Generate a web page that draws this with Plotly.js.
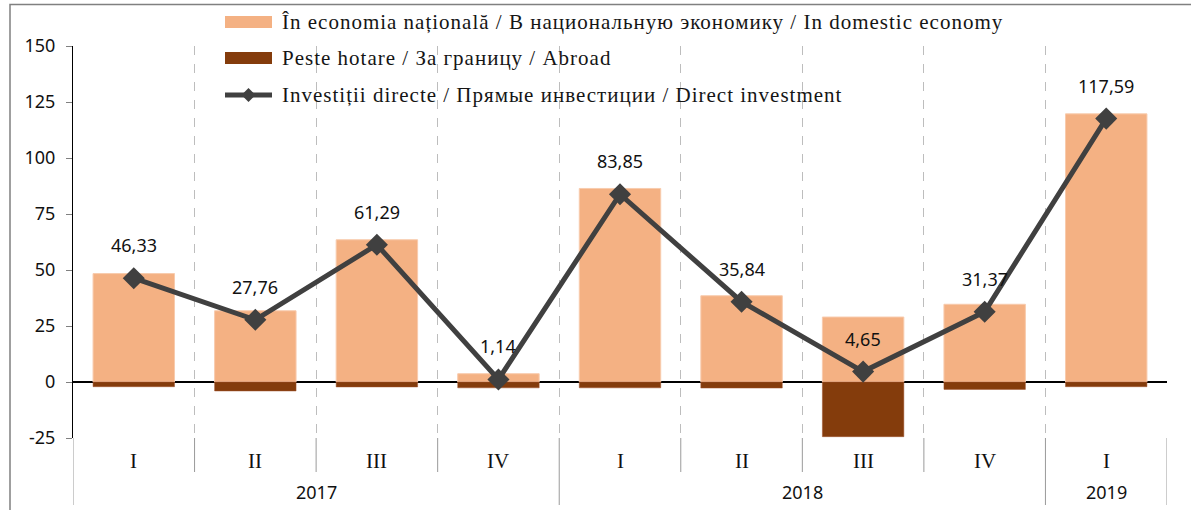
<!DOCTYPE html>
<html>
<head>
<meta charset="utf-8">
<script src="https://cdn.plot.ly/plotly-3.0.1.min.js"></script>
<style>
html,body{margin:0;padding:0;background:#fff;}
#chart{width:1191px;height:510px;}
</style>
</head>
<body>
<div id="chart"></div>
<script>
// ---- data ----
const quarters = ['I','II','III','IV','I','II','III','IV','I'];
const years = ['2017','2017','2017','2017','2018','2018','2018','2018','2019'];
const domestic = [48.4, 31.8, 63.5, 3.7, 86.4, 38.5, 29.0, 34.7, 119.7];
const abroad = [-2.1, -4.0, -2.2, -2.6, -2.6, -2.7, -24.4, -3.3, -2.1];
const direct = [46.33, 27.76, 61.29, 1.14, 83.85, 35.84, 4.65, 31.37, 117.59];
const yTicks = [-25, 0, 25, 50, 75, 100, 125, 150];
const yTickText = ['-25', '0', '25', '50', '75', '100', '125', '150'];
const legendNames = [
  'În economia națională / В национальную экономику / In domestic economy',
  'Peste hotare / За границу / Abroad',
  'Investiții directe / Прямые инвестиции / Direct investment'
];

// ---- layout helpers (pixel -> paper) ----
const W = 1191, H = 510, ML = 73, MR = 24, MT = 46, MB = 72;
const PW = W - ML - MR, PH = H - MT - MB;
const px = x => (x - ML) / PW;
const py = y => (H - MB - y) / PH;

const C_DOM = '#F4B183', C_ABR = '#843C0C', C_LINE = '#404040';
const FONT = 'Noto Sans';
const LFONT = 'Liberation Serif, Times New Roman, serif';

const idx = quarters.map((_, i) => i);

const traces = [
  {type: 'bar', x: idx, y: domestic, name: legendNames[0], width: 0.67,
   marker: {color: C_DOM, line: {color: '#F8CBAD', width: 1}}, showlegend: false, hoverinfo: 'y'},
  {type: 'bar', x: idx, y: abroad, name: legendNames[1], width: 0.67,
   marker: {color: C_ABR, line: {color: '#A0522D', width: 0.5}}, showlegend: false, hoverinfo: 'y'},
  {type: 'scatter', mode: 'lines+markers', x: idx, y: direct, name: legendNames[2],
   line: {color: C_LINE, width: 5}, marker: {symbol: 'diamond', size: 17, color: C_LINE},
   showlegend: false, hoverinfo: 'y'}
];

const shapes = [];
const annotations = [];

// category separators below the plot
const bounds = [];
for (let i = 0; i <= quarters.length; i++) bounds.push(i - 0.5);
bounds.forEach((b, k) => {
  const isYear = (k === 0 || k === quarters.length || years[k] !== years[k - 1]);
  shapes.push({type: 'line', xref: 'x', yref: 'paper', x0: b, x1: b,
    y0: 0, y1: isYear ? py(505) : py(472),
    line: {color: '#9a9a9a', width: 1}});
});

// quarter labels
quarters.forEach((q, i) => {
  annotations.push({x: i, xref: 'x', y: py(461), yref: 'paper', text: q, showarrow: false,
    xanchor: 'center', yanchor: 'middle', font: {family: LFONT, size: 21, color: '#111'}});
});
// year labels
const yearGroups = [];
years.forEach((y, i) => {
  const g = yearGroups[yearGroups.length - 1];
  if (g && g.year === y) g.end = i; else yearGroups.push({year: y, start: i, end: i});
});
yearGroups.forEach(g => {
  annotations.push({x: (g.start + g.end) / 2, xref: 'x', y: py(492), yref: 'paper', text: g.year,
    showarrow: false, xanchor: 'center', yanchor: 'middle', font: {family: FONT, size: 18, color: '#111'}});
});

// data labels
direct.forEach((v, i) => {
  annotations.push({x: i, y: v, xref: 'x', yref: 'y', text: v.toFixed(2).replace('.', ','),
    showarrow: false, yshift: 33, xanchor: 'center', yanchor: 'middle',
    font: {family: FONT, size: 18, color: '#111'}});
});

// custom legend
const LX0 = 225, LX1 = 272, LTX = 280;
const rows = [22, 58, 95];
shapes.push({type: 'rect', xref: 'paper', yref: 'paper', x0: px(LX0), x1: px(LX1),
  y0: py(rows[0] - 6), y1: py(rows[0] + 6), fillcolor: C_DOM, line: {width: 0}});
shapes.push({type: 'rect', xref: 'paper', yref: 'paper', x0: px(LX0), x1: px(LX1),
  y0: py(rows[1] - 6), y1: py(rows[1] + 6), fillcolor: C_ABR, line: {width: 0}});
shapes.push({type: 'line', xref: 'paper', yref: 'paper', x0: px(LX0), x1: px(LX1),
  y0: py(rows[2]), y1: py(rows[2]), line: {color: C_LINE, width: 5}});
const cx = (LX0 + LX1) / 2, cy = rows[2], d = 7;
shapes.push({type: 'path', xref: 'paper', yref: 'paper',
  path: `M ${px(cx)} ${py(cy - d)} L ${px(cx + d)} ${py(cy)} L ${px(cx)} ${py(cy + d)} L ${px(cx - d)} ${py(cy)} Z`,
  fillcolor: C_LINE, line: {width: 0}});
legendNames.forEach((n, i) => {
  annotations.push({x: px(LTX), y: py(rows[i]), xref: 'paper', yref: 'paper', text: n,
    showarrow: false, xanchor: 'left', yanchor: 'middle', font: {family: LFONT, size: 21, color: '#151515'}});
});

// outer frame
shapes.push({type: 'rect', xref: 'paper', yref: 'paper', x0: px(10), x1: px(1230), y0: py(4.5), y1: py(560),
  line: {color: '#808080', width: 1.5}, fillcolor: 'rgba(0,0,0,0)'});

const layout = {
  width: W, height: H,
  margin: {l: ML, r: MR, t: MT, b: MB, pad: 0},
  paper_bgcolor: '#fff', plot_bgcolor: '#fff',
  barmode: 'relative',
  showlegend: false,
  font: {family: FONT, size: 18, color: '#111'},
  xaxis: {
    range: [-0.5, quarters.length - 0.5], tickmode: 'array', tickvals: bounds,
    showticklabels: false, ticks: '', showgrid: true, gridcolor: '#bdbdbd', griddash: 'dash', gridwidth: 1,
    zeroline: false, showline: false, fixedrange: true
  },
  yaxis: {
    range: [-25, 150], tickmode: 'array', tickvals: yTicks, ticktext: yTickText,
    showgrid: false, zeroline: true, zerolinecolor: '#000', zerolinewidth: 1.5,
    showline: true, linecolor: '#000', linewidth: 1,
    ticks: 'outside', ticklen: 6, tickcolor: '#808080', ticklabelstandoff: 7,
    tickfont: {family: FONT, size: 18, color: '#111'}, fixedrange: true
  },
  shapes: shapes,
  annotations: annotations
};

Plotly.newPlot('chart', traces, layout, {displayModeBar: false, staticPlot: true}).then(gd => {
  gd.querySelectorAll('text.annotation-text').forEach(t => {
    if (legendNames.indexOf(t.textContent) >= 0) {
      const before = t.getBBox().x;
      t.style.letterSpacing = '1px';
      const after = t.getBBox().x;
      const x0 = parseFloat(t.getAttribute('x')) || 0;
      t.setAttribute('x', x0 + (before - after));
    }
  });
});
</script>
</body>
</html>
